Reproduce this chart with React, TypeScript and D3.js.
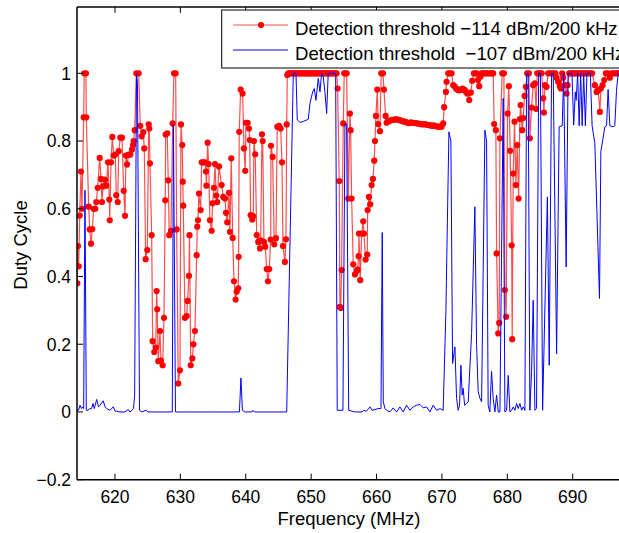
import React from "react";
import * as d3 from "d3";

// Detection threshold -114 dBm/200 kHz (red, markers)
const redFreq = [
  614.24, 614.34, 614.45, 614.6, 614.8, 614.95, 615.21, 615.3, 615.56, 615.61, 615.98, 616.13, 616.33, 616.53, 616.74, 616.99, 617.14, 617.35, 617.66, 617.86,
  618.01, 618.17, 618.47, 618.67, 618.93, 619.13, 619.2, 619.39, 619.59, 619.8, 620.05, 620.2, 620.42, 620.57, 620.82, 621.07, 621.33, 621.53, 621.68, 621.84,
  622.1, 622.34, 622.6, 622.75, 622.86, 623.01, 623.26, 623.62, 623.87, 624.08, 624.33, 624.48, 624.69, 624.94, 625.16, 625.25, 625.35, 625.61, 625.76, 626.01,
  626.22, 626.37, 626.46, 626.62, 626.88, 627.03, 627.29, 627.49, 627.69, 627.75, 627.99, 628.15, 628.3, 628.56, 628.82, 629.02, 629.28, 629.43, 629.68, 629.94,
  630.09, 630.29, 630.37, 630.44, 630.7, 630.96, 631.11, 631.31, 631.4, 631.58, 631.83, 631.99, 632.23, 632.49, 632.58, 632.69, 632.84, 633.1, 633.26, 633.5,
  633.76, 633.91, 633.99, 634.17, 634.32, 634.52, 634.78, 634.93, 635.13, 635.29, 635.49, 635.64, 635.9, 636.31, 636.56, 636.82, 636.97, 637.17, 637.43, 637.58,
  637.78, 638.0, 638.2, 638.45, 638.61, 638.85, 638.91, 639.0, 639.22, 639.52, 639.72, 639.92, 640.03, 640.29, 640.49, 640.6, 640.75, 641.0, 641.15, 641.25,
  641.45, 641.67, 641.91, 642.17, 642.28, 642.48, 642.59, 642.78, 642.98, 643.2, 643.39, 643.59, 643.81, 643.86, 644.11, 644.36, 644.62, 644.82, 645.08, 645.34,
  645.54, 645.69, 645.99, 646.15, 646.26, 646.35,
  646.5, 646.7, 646.9, 647.1, 647.3, 647.5, 647.7, 647.9, 648.1, 648.3, 648.5, 648.7, 648.9, 649.1, 649.3, 649.5, 649.7, 649.9, 650.1, 650.3,
  650.5, 650.7, 650.9, 651.1, 651.3, 651.5, 651.7, 651.9, 652.1, 652.3, 652.5, 652.7, 652.9, 653.1, 653.3, 653.5, 653.7, 653.9,
  654.05, 654.3, 654.4, 654.53, 654.66, 654.91, 655.06, 655.25, 655.43, 655.67, 655.93, 656.04, 656.19, 656.44, 656.7, 656.96, 657.11, 657.26, 657.31, 657.51,
  657.72, 657.97, 658.07, 658.33, 658.58, 658.64, 658.84, 659.04, 659.25, 659.45, 659.65, 659.76, 659.91, 660.11, 660.26, 660.52, 660.72, 660.98, 661.13, 661.39,
  661.54, 661.75, 661.97, 662.2, 662.5, 662.75, 663.0, 663.25, 663.5, 663.75, 664.0, 664.25, 664.5, 664.75, 665.0, 665.25, 665.5, 665.75, 666.0, 666.25,
  666.5, 666.75, 667.0, 667.25, 667.5, 667.75, 668.0, 668.25, 668.5, 668.75, 669.0, 669.25, 669.5, 669.75, 669.95,
  670.19, 670.34, 670.61, 670.71, 670.96, 671.22, 671.48, 671.73, 671.99, 672.15, 672.34, 672.55, 672.75, 672.95, 673.16, 673.35, 673.52, 673.7, 673.87, 674.18,
  674.43, 674.63, 674.89, 675.1, 675.3, 675.5, 675.7, 675.9, 676.07, 676.3, 676.53, 676.75, 676.99, 677.25, 677.49, 677.7, 677.84, 677.99, 678.25, 678.36,
  678.61, 678.76, 678.87, 679.22, 679.48, 679.63, 679.83, 680.04, 680.24, 680.44, 680.66, 680.75, 680.9, 681.11, 681.31, 681.51, 681.73, 681.93, 682.03, 682.28,
  682.43, 682.64, 682.84, 683.04, 683.3, 683.45, 683.71, 683.96, 684.22, 684.4, 684.58, 684.83, 685.05, 685.25, 685.49, 685.6, 685.75, 686.01, 686.25, 686.51,
  686.82, 687.12, 687.35, 687.53, 687.78, 688.04, 688.19, 688.39, 688.55, 688.81, 689.07, 689.22, 689.46, 689.7, 689.95, 690.2, 690.45, 690.7, 690.95, 691.2,
  691.45, 691.7, 691.95, 692.2, 692.45, 692.7, 692.97, 693.39, 693.65, 693.9, 694.16, 694.31, 694.57, 694.82, 695.07, 695.33, 695.68, 695.94, 696.2, 696.44,
  696.7, 696.95, 697.2, 697.45,
];
const redDuty = [
  0.38, 0.49, 0.43, 0.58, 0.71, 0.6, 0.87, 1, 1, 0.87, 0.606, 0.539, 0.497, 0.54, 0.6, 0.6, 0.62, 0.662, 0.75, 0.688,
  0.62, 0.666, 0.686, 0.668, 0.737, 0.627, 0.566, 0.737, 0.812, 0.757, 0.76, 0.64, 0.62, 0.77, 0.81, 0.81, 0.653, 0.579, 0.757, 0.731,
  0.76, 0.76, 0.775, 0.788, 0.8, 0.832, 1, 1, 0.845, 0.814, 0.826, 0.778, 0.451, 0.478, 0.849, 0.837, 0.734, 0.522, 0.209, 0.177,
  0.19, 0.357, 0.303, 0.15, 0.239, 0.152, 0.138, 0.278, 0.625, 0.819, 0.823, 0.684, 0.522, 0.535, 0.852, 1, 1, 0.539, 0.084, 0.123,
  0.849, 0.788, 0.68, 0.609, 0.278, 0.283, 0.328, 0.402, 0.522, 0.138, 0.158, 0.2, 0.239, 0.463, 0.547, 0.566, 0.645, 0.596, 0.737, 0.737,
  0.737, 0.71, 0.668, 0.795, 0.732, 0.566, 0.535, 0.616, 0.662, 0.732, 0.639, 0.62, 0.725, 0.67, 0.635, 0.63, 0.588, 0.56, 0.647, 0.532,
  0.749, 0.514, 0.386, 0.332, 0.355, 0.365, 0.458, 0.827, 0.952, 0.94, 0.778, 0.712, 0.854, 0.854, 0.837, 0.803, 0.581, 0.568, 0.578, 0.8,
  0.761, 0.522, 0.502, 0.483, 0.507, 0.82, 0.8, 0.502, 0.488, 0.422, 0.386, 0.422, 0.509, 0.786, 0.753, 0.495, 0.513, 0.842, 0.845, 0.837,
  0.737, 0.49, 0.443, 0.51, 0.849, 0.995,
  1, 1, 1, 1, 1, 1, 1, 1, 1, 1, 1, 1, 1, 1, 1, 1, 1, 1, 1, 1,
  1, 1, 1, 1, 1, 1, 1, 1, 1, 1, 1, 1, 1, 1, 1, 1, 1, 1,
  0.955, 0.682, 0.31, 0.307, 0.419, 0.852, 1, 1, 1, 0.63, 0.881, 0.832, 0.63, 0.436, 0.406, 0.416, 0.42, 0.46, 0.527, 0.389,
  0.527, 0.563, 0.527, 0.45, 0.465, 0.596, 0.635, 0.613, 0.67, 0.688, 0.742, 0.8, 0.874, 0.952, 0.85, 0.829, 1, 1, 0.952, 0.874,
  0.854, 0.858, 0.859, 0.862, 0.862, 0.864, 0.864, 0.863, 0.862, 0.86, 0.859, 0.857, 0.856, 0.854, 0.853, 0.855, 0.854, 0.853, 0.853, 0.852,
  0.851, 0.85, 0.849, 0.85, 0.849, 0.848, 0.847, 0.846, 0.845, 0.846, 0.844, 0.843, 0.842, 0.843, 0.842,
  0.852, 0.9, 0.945, 0.975, 1, 1, 1, 0.965, 0.96, 0.955, 0.952, 0.95, 0.95, 0.953, 0.955, 0.952, 0.95, 0.945, 0.94, 0.921,
  0.943, 0.978, 1, 1, 1, 0.98, 0.962, 0.99, 1, 1, 1, 1, 1, 1, 1, 1, 1, 0.85, 0.832, 0.468,
  0.232, 0.263, 0.808, 1, 1, 0.36, 0.281, 0.881, 0.962, 0.771, 0.492, 0.215, 0.704, 0.857, 0.67, 0.788, 0.63, 0.865, 0.906, 0.832,
  0.868, 0.933, 0.96, 1, 1, 0.808, 0.899, 0.965, 0.97, 0.895, 1, 1, 1, 1, 0.926, 0.884, 0.965, 0.96, 1, 1,
  1, 1, 1, 0.987, 0.975, 0.962, 0.955, 1, 0.987, 0.965, 0.94, 0.965, 1, 1, 1, 1, 1, 1, 1, 1,
  1, 1, 1, 1, 1, 1, 1, 0.965, 0.945, 0.95, 0.886, 0.955, 0.965, 0.98, 1, 1, 0.987, 1, 1, 1,
  1, 1, 1, 1,
];

// Detection threshold -107 dBm/200 kHz (blue line)
const blueFreq = [
  614.19, 614.42, 614.65, 614.88, 615.03, 615.21, 615.41, 615.61, 615.87, 616.18, 616.41, 616.64, 616.84, 617.2, 617.48, 617.71, 618.21, 618.47, 618.73, 619.24,
  619.74, 620.0, 620.76, 621.53, 622.03, 622.29, 622.6, 622.83, 623.01, 623.29, 623.44, 623.75, 624.13, 624.74, 625.05, 626.88, 628.76, 628.94, 629.25, 631.46,
  634.52, 639.03, 639.26, 639.49, 639.87, 640.95, 641.1, 641.33, 646.26, 647.27, 647.68, 647.88, 648.29, 648.8, 649.56, 649.82, 650.23, 650.48, 650.73, 651.09,
  651.35, 651.6, 651.85, 652.11, 652.37, 652.61, 653.75, 653.99, 654.86, 655.17, 655.43, 655.74, 656.7, 657.77, 658.07, 658.38, 658.69, 658.99, 659.3, 659.76,
  660.22, 660.68, 660.87, 661.03, 661.29, 661.54, 662.05, 662.55, 663.07, 663.57, 664.08, 664.59, 665.1, 665.61, 666.12, 666.63, 667.14, 667.65, 668.16, 668.67,
  669.18, 669.69, 670.19, 670.61, 671.07, 671.37, 671.63, 671.99, 672.24, 672.49, 672.7, 672.9, 673.1, 673.25, 673.47, 673.77, 674.02, 674.28, 674.54, 675.04,
  675.3, 675.55, 675.81, 676.07, 676.57, 676.83, 677.07, 677.33, 677.59, 677.84, 678.1, 678.36, 678.61, 678.87, 679.37, 679.63, 679.89, 680.14, 680.4, 680.66,
  680.91, 681.16, 681.42, 681.67, 681.93, 682.19, 682.43, 682.69, 682.95, 683.19, 683.45, 683.71, 683.96, 684.22, 684.47, 684.8, 685.06, 685.4, 686.13, 686.41,
  686.77, 687.02, 687.54, 687.93, 688.4, 688.62, 689.0, 689.3, 689.89, 690.15, 690.4, 690.53, 690.76, 690.99, 691.22, 691.45, 691.68, 691.94, 692.18, 692.7,
  692.97, 693.39, 694.1, 694.31, 694.66, 694.92, 695.18, 695.42, 695.68, 696.18, 696.44, 696.7, 696.95, 697.51,
];
const blueDuty = [
  0.005, 0.005, 0.02, 0.01, 0.015, 0.01, 0.655, 0.005, 0.005, 0.01, 0.01, 0.025, 0.01, 0.037, 0.015, 0.02, 0.033, 0.015, 0.01, 0.005,
  0.015, 0.003, 0.0, 0.0, 0.007, 0.0, 0.005, 0.01, 0.05, 1.0, 0.97, 0.005, 0.0, 0.005, 0.0, 0.0, 0.0, 0.85, 0.0, 0.0,
  0.0, 0.0, 0.1, 0.005, 0.0, 0.0, 0.005, 0.0, 0.0, 1.0, 1.0, 0.862, 0.855, 0.858, 0.864, 0.911, 0.945, 0.955, 0.92, 0.985,
  0.945, 1.0, 0.99, 0.945, 0.881, 1.0, 1.0, 0.005, 0.005, 0.852, 0.85, 0.005, 0.0, 0.0, 0.005, 0.002, 0.007, 0.015, 0.005, 0.007,
  0.01, 0.01, 0.53, 0.03, 0.01, 0.005, 0.0, 0.012, 0.0, 0.015, 0.0, 0.02, 0.005, 0.015, 0.02, 0.022, 0.012, 0.015, 0.0, 0.02,
  0.005, 0.01, 0.005, 0.3, 0.827, 0.8, 0.143, 0.192, 0.04, 0.005, 0.02, 0.138, 0.05, 0.07, 0.02, 0.025, 0.03, 0.133, 0.232, 0.606,
  0.2, 0.06, 0.04, 0.03, 0.832, 0.8, 0.02, 0.0, 0.12, 0.04, 0.0, 0.05, 0.0, 0.0, 0.926, 0.0, 0.005, 0.108, 0.0, 0.005,
  0.015, 0.005, 0.025, 0.01, 0.025, 0.005, 0.015, 0.005, 1.0, 1.0, 0.005, 0.12, 0.33, 0.005, 0.01, 1.0, 1.0, 0.005, 0.635, 0.138,
  1.0, 1.0, 0.172, 0.842, 0.845, 1.0, 0.428, 1.0, 1.0, 0.847, 0.945, 0.92, 1.0, 0.845, 1.0, 0.845, 1.0, 0.845, 1.0, 1.0,
  0.845, 0.793, 0.335, 0.77, 0.81, 0.842, 0.845, 0.952, 0.845, 0.842, 0.845, 0.95, 1.0, 1.0,
];

const xTicks = [620, 630, 640, 650, 660, 670, 680, 690];
const yTicks = [-0.2, 0, 0.2, 0.4, 0.6, 0.8, 1];
const legendLabels = ["Detection threshold \u2212114 dBm/200 kHz", "Detection threshold  \u2212107 dBm/200 kHz"];

const W = 619;
const H = 533;
const FONT = "'Liberation Sans', Arial, Helvetica, sans-serif";

export default function App() {
  const left = 77, right = 625, top = 6.9, bottom = 479.7;
  const x = d3.scaleLinear().domain([614.19, 698]).range([left, right]);
  const y = d3.scaleLinear().domain([-0.2, 1.196]).range([bottom, top]);

  const red = redFreq.map((f, i) => [f, redDuty[i]] as [number, number]);
  const blue = blueFreq.map((f, i) => [f, blueDuty[i]] as [number, number]);
  const line = d3.line<[number, number]>().x((d) => x(d[0])).y((d) => y(d[1]));

  const fmt = (v: number) => (v < 0 ? "\u2212" : "") + String(Math.abs(Math.round(v * 10) / 10));
  const tl = 6;

  return (
    <svg width={W} height={H} style={{ position: "absolute", left: 0, top: 0, background: "#fff" }} fontFamily={FONT}>
      <defs>
        <clipPath id="plot">
          <rect x={left} y={top} width={right - left} height={bottom - top} />
        </clipPath>
      </defs>
      <rect x={0} y={0} width={W} height={H} fill="#fff" />
      <g clipPath="url(#plot)">
        <path d={line(red) || ""} fill="none" stroke="#ff0000" strokeOpacity={0.7} strokeWidth={1.2} />
        {red.map((d, i) => (
          <circle key={i} cx={x(d[0])} cy={y(d[1])} r={3.1} fill="#ff0000" />
        ))}
        <path d={line(blue) || ""} fill="none" stroke="#0000ff" strokeWidth={1} />
      </g>
      {/* axes box */}
      <line x1={left} y1={bottom} x2={right + 20} y2={bottom} stroke="#000" strokeWidth={1.5} />
      <line x1={left} y1={top} x2={right + 20} y2={top} stroke="#000" strokeWidth={1.5} />
      <line x1={left} y1={top} x2={left} y2={bottom} stroke="#000" strokeWidth={1.5} />
      {xTicks.map((t) => (
        <g key={t}>
          <line x1={x(t)} x2={x(t)} y1={bottom} y2={bottom - tl} stroke="#000" strokeWidth={1} />
          <line x1={x(t)} x2={x(t)} y1={top} y2={top + tl} stroke="#000" strokeWidth={1} />
          <text x={x(t)} y={503} textAnchor="middle" fontSize={17.5} fill="#000">{t}</text>
        </g>
      ))}
      {yTicks.map((t) => (
        <g key={t}>
          <line x1={left} x2={left + tl} y1={y(t)} y2={y(t)} stroke="#000" strokeWidth={1} />
          <text x={71} y={y(t)} dy="0.36em" textAnchor="end" fontSize={17.5} fill="#000">{fmt(t)}</text>
        </g>
      ))}
      <text x={349} y={525} textAnchor="middle" fontSize={18.5} fill="#000">Frequency (MHz)</text>
      <text transform="translate(27,245) rotate(-90)" textAnchor="middle" fontSize={18.5} fill="#000">Duty Cycle</text>
      {/* legend */}
      <rect x={221.7} y={10} width={440} height={58} fill="#fff" stroke="#000" strokeWidth={1} />
      <line x1={233} x2={288} y1={25} y2={25} stroke="#ff0000" strokeOpacity={0.7} strokeWidth={1.2} />
      <circle cx={261} cy={25} r={3.1} fill="#ff0000" />
      <line x1={233} x2={288} y1={50} y2={50} stroke="#0000ff" strokeWidth={1} />
      <text x={295} y={34.5} fontSize={18.6} fill="#000" style={{ whiteSpace: "pre" }}>{legendLabels[0]}</text>
      <text x={295} y={59.5} fontSize={18.6} fill="#000" style={{ whiteSpace: "pre" }}>{legendLabels[1]}</text>
    </svg>
  );
}
